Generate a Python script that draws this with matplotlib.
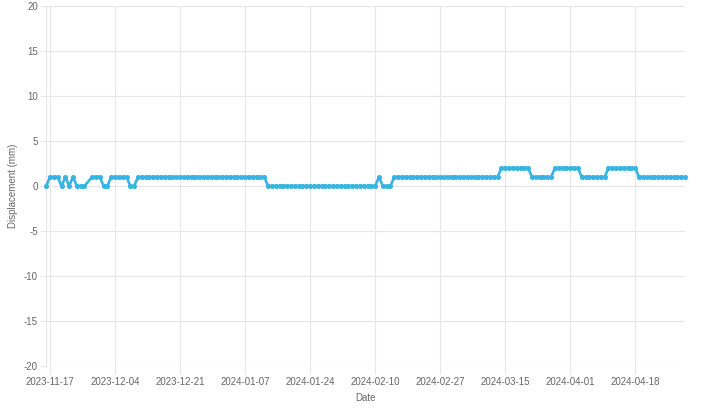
import matplotlib
matplotlib.use('Agg')
import matplotlib.pyplot as plt
import matplotlib.dates as mdates
import numpy as np
import datetime as dt

plt.rcParams['font.family'] = ['Liberation Sans', 'DejaVu Sans']

first_day = dt.date(2023, 11, 16)
nan = np.nan
# daily displacement (mm), one value per day from 2023-11-16; nan = no reading
displacement = [
    0, 1, 1, 1, 0, 1, 0, 1, 0, 0,            # Nov 16 - Nov 25
    0, nan, 1, 1, 1, 0, 0, 1, 1, 1,          # Nov 26 - Dec 05
    1, 1, 0, 0, 1, 1, 1, 1, 1, 1,            # Dec 06 - Dec 15
    1, 1, 1, 1, 1, 1, 1, 1, 1, 1,            # Dec 16 - Dec 25
    1, 1, 1, 1, 1, 1, 1, 1, 1, 1,            # Dec 26 - Jan 04
    1, 1, 1, 1, 1, 1, 1, 1, 0, 0,            # Jan 05 - Jan 14
    0, 0, 0, 0, 0, 0, 0, 0, 0, 0,            # Jan 15 - Jan 24
    0, 0, 0, 0, 0, 0, 0, 0, 0, 0,            # Jan 25 - Feb 03
    0, 0, 0, 0, 0, 0, 0, 1, 0, 0,            # Feb 04 - Feb 13
    0, 1, 1, 1, 1, 1, 1, 1, 1, 1,            # Feb 14 - Feb 23
    1, 1, 1, 1, 1, 1, 1, 1, 1, 1,            # Feb 24 - Mar 04
    1, 1, 1, 1, 1, 1, 1, 1, 1, 2,            # Mar 05 - Mar 14
    2, 2, 2, 2, 2, 2, 2, 1, 1, 1,            # Mar 15 - Mar 24
    1, 1, 1, 2, 2, 2, 2, 2, 2, 2,            # Mar 25 - Apr 03
    1, 1, 1, 1, 1, 1, 1, 2, 2, 2,            # Apr 04 - Apr 13
    2, 2, 2, 2, 2, 1, 1, 1, 1, 1,            # Apr 14 - Apr 23
    1, 1, 1, 1, 1, 1, 1, 1,                  # Apr 24 - May 01
]
dates = [first_day + dt.timedelta(days=k) for k in range(len(displacement))]

tick_dates = ['2023-11-17', '2023-12-04', '2023-12-21', '2024-01-07', '2024-01-24',
              '2024-02-10', '2024-02-27', '2024-03-15', '2024-04-01', '2024-04-18']
y_ticks = [-20, -15, -10, -5, 0, 5, 10, 15, 20]

line_color = '#36b4e3'
grid_color = '#e6e6e6'
text_color = '#666666'

# skip days without a reading (the line is drawn straight across them)
plot_dates = [d for d, v in zip(dates, displacement) if not np.isnan(v)]
plot_vals = [v for v in displacement if not np.isnan(v)]

fig = plt.figure(figsize=(7.02, 4.17), dpi=100)
ax = fig.add_axes([46.2 / 702, (417 - 366) / 417, (685 - 46.2) / 702, 360 / 417])

ax.plot(plot_dates, plot_vals, color=line_color, lw=1.9, marker='o', markersize=3.0,
        markeredgewidth=0.6, markerfacecolor=line_color, markeredgecolor=line_color,
        clip_on=False, zorder=3)

ax.set_xlim(dates[0], dates[-1])
ax.set_ylim(-20, 20)
ax.set_yticks(y_ticks)
ax.set_yticklabels([str(v) for v in y_ticks])
ax.set_xticks([mdates.datestr2num(d) for d in tick_dates])
ax.set_xticklabels(tick_dates)

ax.grid(True, color=grid_color, lw=0.8)
ax.set_axisbelow(True)
for side in ['top', 'right', 'bottom']:
    ax.spines[side].set_visible(False)
ax.spines['left'].set_color(grid_color)
ax.spines['left'].set_linewidth(0.8)

ax.tick_params(axis='y', length=4, color=grid_color, width=0.8, pad=2,
               labelsize=7, labelcolor=text_color)
ax.tick_params(axis='x', length=5.5, color=grid_color, width=0.8, pad=2.5,
               labelsize=7, labelcolor=text_color)

ax.set_xlabel('Date', fontsize=7, color=text_color, labelpad=4)
ax.set_ylabel('Displacement (mm)', fontsize=7, color=text_color, labelpad=4)

fig.savefig('out.png', dpi=100)
